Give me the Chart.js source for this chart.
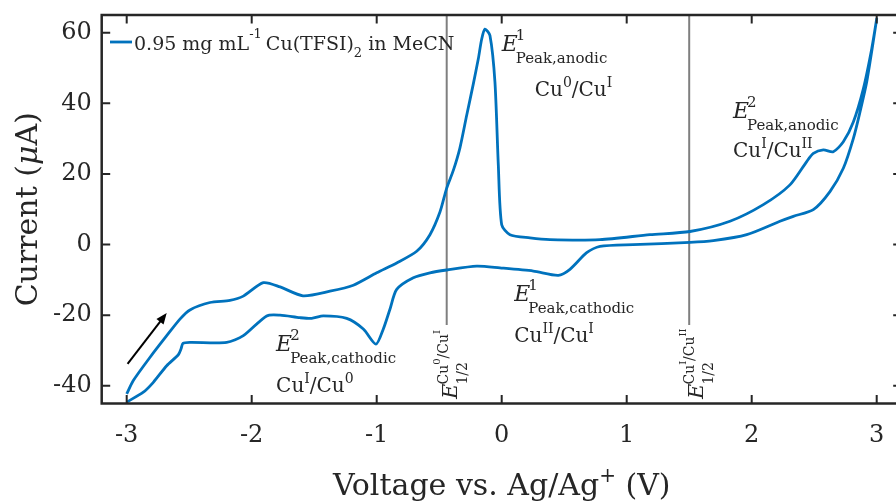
<!DOCTYPE html>
<html>
<head>
<meta charset="utf-8">
<script src="https://cdn.jsdelivr.net/npm/chart.js@4/dist/chart.umd.min.js"></script>
<style>
  html, body { margin: 0; padding: 0; background: #fff; overflow: hidden; }
  body { width: 896px; height: 503px; }
  #wrap { position: relative; width: 910px; height: 503px; }
</style>
</head>
<body>
<div id="wrap"><canvas id="cv" width="910" height="503"></canvas></div>
<script>
// Cyclic voltammogram of 0.95 mg/mL Cu(TFSI)2 in MeCN
const xTickValues = [-3, -2, -1, 0, 1, 2, 3];
const yTickValues = [-40, -20, 0, 20, 40, 60];

// anodic (forward) sweep, -3 V -> +3 V
const forwardV = [-3.0, -2.947, -2.813, -2.68, -2.574, -2.494, -2.334, -2.174, -2.067, -1.907,
  -1.773, -1.59, -1.374, -1.187, -1.0, -0.84, -0.68, -0.574, -0.494, -0.44, -0.387, -0.334,
  -0.28, -0.227, -0.187, -0.16, -0.134, -0.094, -0.054, -0.027, 0.0, 0.066, 0.226, 0.386, 0.786,
  1.186, 1.506, 1.826, 2.093, 2.306, 2.44, 2.493, 2.573, 2.653, 2.733, 2.813, 2.893, 2.96, 3.0];
const forwardI = [-42.3, -38.5, -31.9, -25.8, -21.1, -18.5, -16.4, -15.8, -14.6, -10.8,
  -12.0, -14.5, -13.2, -11.5, -8.0, -5.2, -1.9, 2.8, 9.2, 16.0, 21.0, 27.4,
  36.6, 45.5, 52.6, 58.2, 61.0, 59.2, 46.0, 22.5, 5.6, 2.8, 1.9, 1.4, 1.4,
  2.8, 3.7, 6.6, 11.3, 16.9, 23.5, 25.8, 26.8, 26.3, 29.1, 34.7, 44.1, 55.4, 63.9];

// cathodic (reverse) sweep, +3 V -> -3 V
const reverseV = [2.92, 2.866, 2.813, 2.733, 2.626, 2.493, 2.333, 2.226, 1.96, 1.693, 1.506,
  1.053, 0.786, 0.68, 0.546, 0.453, 0.253, -0.014, -0.2, -0.44, -0.574, -0.707, -0.84, -0.894,
  -0.947, -1.006, -1.107, -1.24, -1.427, -1.52, -1.614, -1.773, -1.88, -2.067, -2.2, -2.494,
  -2.55, -2.565, -2.587, -2.68, -2.787, -2.867, -3.0];
const reverseI = [46.0, 37.5, 30.0, 21.6, 15.0, 9.9, 8.0, 6.6, 2.8, 1.1, 0.6,
  0.0, -0.5, -2.3, -7.0, -8.7, -7.5, -6.6, -6.1, -7.2, -8.0, -9.4, -12.7, -18.3,
  -23.9, -28.2, -23.9, -20.9, -20.2, -20.9, -20.7, -20.0, -20.2, -25.8, -27.7, -27.7,
  -28.0, -29.5, -31.2, -34.3, -39.0, -41.8, -44.6];

// half-wave potentials E1/2 (V) and the span of their marker lines (µA)
const halfWaveV = [-0.44, 1.5];
const halfWaveTop = 65;
const halfWaveBottom = -22.8;

// scan-direction arrow (V, µA)
const arrowFrom = [-2.993, -33.8];
const arrowTo = [-2.68, -19.4];

const scanPoints = forwardV.map((v, i) => ({ x: v, y: forwardI[i] }))
  .concat(reverseV.map((v, i) => ({ x: v, y: reverseI[i] })));

const FONT = '"DejaVu Serif", "Liberation Serif", serif';
const TEXT = '#262626';

// peak annotations: anchor (V, µA) of the E glyph baseline, plus offset of the couple line
const peakNotes = [
  { v: 0.0,   i: 54.9,  sup: '1', sub: 'Peak,anodic',   cuDx: 33, cuDy: 45,
    couple: [['Cu'], ['0', 1], ['/Cu'], ['I', 1]] },
  { v: 1.85,  i: 35.8,  sup: '2', sub: 'Peak,anodic',   cuDx: 0,  cuDy: 39,
    couple: [['Cu'], ['I', 1], ['/Cu'], ['II', 1]] },
  { v: 0.1,   i: -16.1, sup: '1', sub: 'Peak,cathodic', cuDx: 0,  cuDy: 41,
    couple: [['Cu'], ['II', 1], ['/Cu'], ['I', 1]] },
  { v: -1.805, i: -30.1, sup: '2', sub: 'Peak,cathodic', cuDx: 0,  cuDy: 41,
    couple: [['Cu'], ['I', 1], ['/Cu'], ['0', 1]] }
];

// rotated half-wave labels: anchor (V, µA) = start of baseline
const halfNotes = [
  { v: -0.358, i: -43.7, couple: [['Cu'], ['0', 1], ['/Cu'], ['I', 1]] },
  { v: 1.61,   i: -43.7, couple: [['Cu'], ['I', 1], ['/Cu'], ['II', 1]] }
];

function font(size, italic) {
  return (italic ? 'italic ' : '') + size + 'px ' + FONT;
}

// draws a run of text pieces; returns x at the end
function drawRuns(ctx, x, y, runs) {
  for (const r of runs) {
    ctx.font = font(r.size, r.italic);
    ctx.fillText(r.t, x, y + (r.dy || 0));
    x += ctx.measureText(r.t).width + (r.kern || 0);
  }
  return x;
}
function measureRuns(ctx, runs) {
  let w = 0;
  for (const r of runs) { ctx.font = font(r.size, r.italic); w += ctx.measureText(r.t).width + (r.kern || 0); }
  return w;
}
function coupleRuns(parts, base, supSize, supDy) {
  return parts.map(p => p[1] ? { t: p[0], size: supSize, dy: supDy } : { t: p[0], size: base });
}

const overlay = {
  id: 'overlay',
  afterDatasetsDraw(chart) {
    const ctx = chart.ctx;
    const xs = chart.scales.x, ys = chart.scales.y;
    ctx.save();
    ctx.fillStyle = TEXT;
    ctx.textBaseline = 'alphabetic';
    ctx.textAlign = 'left';

    // peak labels
    for (const n of peakNotes) {
      const px = xs.getPixelForValue(n.v), py = ys.getPixelForValue(n.i);
      const xe = drawRuns(ctx, px, py, [{ t: 'E', size: 22, italic: true }]) - 2;
      drawRuns(ctx, xe, py, [{ t: n.sup, size: 15, dy: -11 }]);
      drawRuns(ctx, xe, py, [{ t: n.sub, size: 15, dy: 12 }]);
      drawRuns(ctx, px + n.cuDx, py + n.cuDy, coupleRuns(n.couple, 20, 14, -9));
    }

    // rotated E1/2 labels
    for (const n of halfNotes) {
      const px = xs.getPixelForValue(n.v), py = ys.getPixelForValue(n.i);
      ctx.save();
      ctx.translate(px, py);
      ctx.rotate(-Math.PI / 2);
      const xe = drawRuns(ctx, 0, 0, [{ t: 'E', size: 21, italic: true }]) - 1;
      const supParts = n.couple.map(p => p[1] ? { t: p[0], size: 10, dy: -17 } : { t: p[0], size: 14, dy: -9 });
      drawRuns(ctx, xe, 0, supParts);
      drawRuns(ctx, xe, 0, [{ t: '1/2', size: 14, dy: 10 }]);
      ctx.restore();
    }

    // scan-direction arrow
    const ax0 = xs.getPixelForValue(arrowFrom[0]), ay0 = ys.getPixelForValue(arrowFrom[1]);
    const ax1 = xs.getPixelForValue(arrowTo[0]), ay1 = ys.getPixelForValue(arrowTo[1]);
    const ang = Math.atan2(ay1 - ay0, ax1 - ax0);
    const head = 11, half = 4.5;
    ctx.strokeStyle = '#000';
    ctx.fillStyle = '#000';
    ctx.lineWidth = 2;
    ctx.beginPath();
    ctx.moveTo(ax0, ay0);
    ctx.lineTo(ax1 - Math.cos(ang) * head * 0.8, ay1 - Math.sin(ang) * head * 0.8);
    ctx.stroke();
    ctx.beginPath();
    ctx.moveTo(ax1, ay1);
    ctx.lineTo(ax1 - Math.cos(ang) * head - Math.sin(ang) * half, ay1 - Math.sin(ang) * head + Math.cos(ang) * half);
    ctx.lineTo(ax1 - Math.cos(ang) * head + Math.sin(ang) * half, ay1 - Math.sin(ang) * head - Math.cos(ang) * half);
    ctx.closePath();
    ctx.fill();

    // legend
    ctx.strokeStyle = '#0072BD';
    ctx.lineWidth = 2.8;
    ctx.beginPath();
    ctx.moveTo(110, 42);
    ctx.lineTo(132, 42);
    ctx.stroke();
    ctx.fillStyle = TEXT;
    drawRuns(ctx, 134, 50, [
      { t: '0.95 mg mL', size: 19 },
      { t: '-1', size: 13, dy: -12, kern: 4 },
      { t: 'Cu(TFSI)', size: 19 },
      { t: '2', size: 13, dy: 7 },
      { t: ' in MeCN', size: 19 }
    ]);
    ctx.restore();
  },
  afterDraw(chart) {
    const ctx = chart.ctx;
    const a = chart.chartArea;
    const xs = chart.scales.x, ys = chart.scales.y;
    ctx.save();
    ctx.strokeStyle = TEXT;
    ctx.lineWidth = 2.5;
    ctx.strokeRect(a.left, a.top, a.right - a.left, a.bottom - a.top);
    const tl = 8.5;
    ctx.lineWidth = 2;
    ctx.beginPath();
    for (const v of xTickValues) {
      const p = xs.getPixelForValue(v);
      ctx.moveTo(p, a.bottom); ctx.lineTo(p, a.bottom - tl);
      ctx.moveTo(p, a.top); ctx.lineTo(p, a.top + tl);
    }
    for (const v of yTickValues) {
      const p = ys.getPixelForValue(v);
      ctx.moveTo(a.left, p); ctx.lineTo(a.left + tl, p);
      ctx.moveTo(a.right, p); ctx.lineTo(a.right - tl, p);
    }
    ctx.stroke();

    // axis titles
    ctx.fillStyle = TEXT;
    ctx.textBaseline = 'alphabetic';
    ctx.textAlign = 'left';
    const xt = [
      { t: 'Voltage vs. Ag/Ag', size: 30 },
      { t: '+', size: 20, dy: -13 },
      { t: ' (V)', size: 30 }
    ];
    const cx = (xs.getPixelForValue(-3.2) + xs.getPixelForValue(3.2)) / 2;
    drawRuns(ctx, cx - measureRuns(ctx, xt) / 2, 495, xt);

    const yt = [
      { t: 'Current (', size: 30 },
      { t: 'μ', size: 30, italic: true },
      { t: 'A)', size: 30 }
    ];
    ctx.translate(37, (a.top + a.bottom) / 2);
    ctx.rotate(-Math.PI / 2);
    drawRuns(ctx, -measureRuns(ctx, yt) / 2, 0, yt);
    ctx.restore();
  }
};

const tickFont = { family: FONT, size: 24 };

new Chart(document.getElementById('cv').getContext('2d'), {
  type: 'scatter',
  data: {
    datasets: [
      { data: scanPoints, showLine: true, borderColor: '#0072BD', borderWidth: 2.8,
        pointRadius: 0, tension: 0.25, fill: false, order: 1 },
      ...halfWaveV.map(v => ({
        data: [{ x: v, y: halfWaveTop }, { x: v, y: halfWaveBottom }],
        showLine: true, borderColor: '#7f7f7f', borderWidth: 2, pointRadius: 0,
        tension: 0, fill: false, order: 2
      }))
    ]
  },
  options: {
    responsive: false,
    animation: false,
    events: [],
    layout: { padding: { left: 0, top: 15, right: 8.3, bottom: 0 } },
    plugins: { legend: { display: false }, tooltip: { enabled: false } },
    scales: {
      x: {
        type: 'linear', min: -3.2, max: 3.2,
        afterFit(s) { s.height = 99.5; s.paddingLeft = 0; s.paddingRight = 0; },
        afterBuildTicks(s) { s.ticks = xTickValues.map(v => ({ value: v })); },
        grid: { display: false, drawTicks: false },
        border: { display: false },
        ticks: { font: tickFont, color: TEXT, padding: 18, maxRotation: 0, autoSkip: false,
                 callback: v => String(v) }
      },
      y: {
        type: 'linear', min: -45, max: 65,
        afterFit(s) { s.width = 101.7; s.paddingTop = 0; s.paddingBottom = 0; },
        afterBuildTicks(s) { s.ticks = yTickValues.map(v => ({ value: v })); },
        grid: { display: false, drawTicks: false },
        border: { display: false },
        ticks: { font: tickFont, color: TEXT, padding: 10, autoSkip: false,
                 callback: v => String(v) }
      }
    }
  },
  plugins: [overlay]
});
</script>
</body>
</html>
